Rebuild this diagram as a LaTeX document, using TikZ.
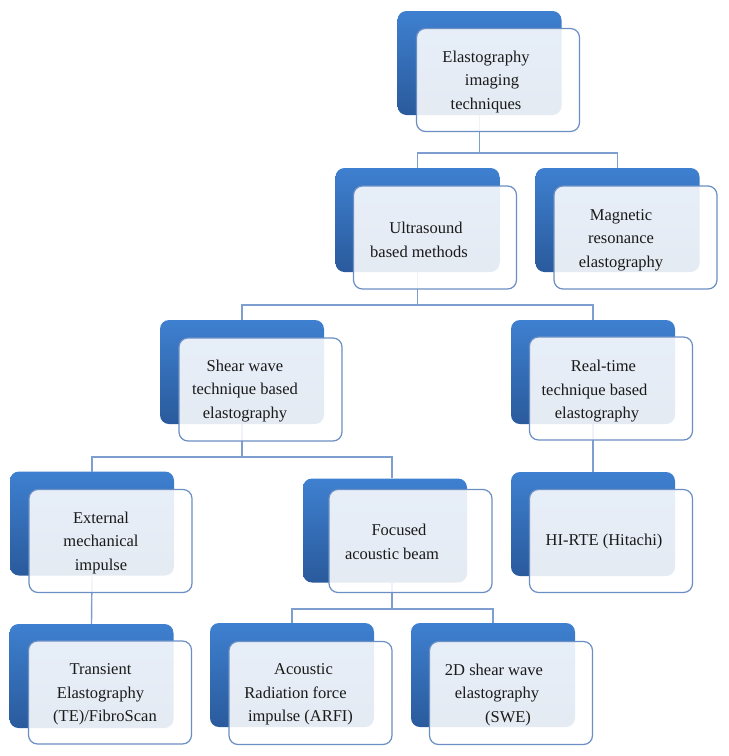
\documentclass[tikz,border=0pt]{standalone}
\usepackage{fontspec}
\setmainfont{Liberation Serif}
\definecolor{bluetop}{HTML}{3E80D0}
\definecolor{bluebot}{HTML}{2A5A9C}
\definecolor{frontline}{HTML}{6B8FC4}
\definecolor{linkc}{HTML}{7D9ECF}
\definecolor{txtc}{HTML}{1A1A1A}
\begin{document}
\begin{tikzpicture}[x=1pt,y=-1pt,
  backbox/.style={rectangle, rounded corners=9pt, minimum width=164pt, minimum height=104pt,
    inner sep=0pt, outer sep=0pt, top color=bluetop, bottom color=bluebot, draw=none},
  frontbox/.style={rectangle, rounded corners=9pt, minimum width=163pt, minimum height=103pt,
    inner sep=0pt, outer sep=0pt, draw=frontline, line width=1.2pt, fill=white, fill opacity=0.88},
  txt/.style={align=center, font=\fontsize{16.5}{23.5}\selectfont, inner sep=0pt, text=txtc},
  link/.style={draw=linkc, line width=1.4pt}]
\useasboundingbox (0,0) rectangle (729,756);

% back boxes
\node[backbox] (Ab) at (479.5,63) {};
\node[backbox] (Bb) at (417.5,220) {};
\node[backbox] (Cb) at (617.5,220) {};
\node[backbox] (Db) at (242,372) {};
\node[backbox] (Eb) at (593,372) {};
\node[backbox] (Fb) at (92,523.5) {};
\node[backbox] (Gb) at (385,530.5) {};
\node[backbox] (Hb) at (593,524) {};
\node[backbox] (Ib) at (91.5,676) {};
\node[backbox] (Jb) at (292,675) {};
\node[backbox] (Kb) at (493,675) {};

% connectors
\coordinate (j1) at (0,153);
\coordinate (j2) at (0,305);
\coordinate (j3) at (0,457);
\coordinate (j4) at (0,609);
\coordinate (gin) at (392,478);
\coordinate (gout) at (392,583);
\draw[link] (Ab.south) -- (Ab.south |- j1) -| (Bb.north);
\draw[link] (Ab.south |- j1) -| (Cb.north);
\draw[link] (Bb.south) -- (Bb.south |- j2) -| (Db.north);
\draw[link] (Bb.south |- j2) -| (Eb.north);
\draw[link] (Db.south) -- (Db.south |- j3) -| (Fb.north);
\draw[link] (Db.south |- j3) -| (gin);
\draw[link] (Eb.south) -- (Hb.north);
\draw[link] (Fb.south) -- (Ib.north);
\draw[link] (gout) -- (gout |- j4) -| (Jb.north);
\draw[link] (gout |- j4) -| (Kb.north);

% front boxes
\node[frontbox] (Af) at (498,80) {};
\node[frontbox] (Bf) at (435,237.5) {};
\node[frontbox] (Cf) at (635.5,237.5) {};
\node[frontbox] (Df) at (260.5,389.5) {};
\node[frontbox] (Ef) at (611,388.5) {};
\node[frontbox] (Ff) at (110.5,541) {};
\node[frontbox] (Gf) at (410.5,541) {};
\node[frontbox] (Hf) at (611,541) {};
\node[frontbox] (If) at (110,692.5) {};
\node[frontbox] (Jf) at (310.5,693) {};
\node[frontbox] (Kf) at (511,693) {};

% texts
\node[txt] (At) at (486,82) {Elastography\\\kern12pt imaging\\techniques};
\node[txt] (Bt) at (419,240) {\kern14pt Ultrasound\\based methods};
\node[txt] (Ct) at (621,240) {Magnetic\\resonance\\elastography};
\node[txt] (Dt) at (245,391) {Shear wave\\technique based\\elastography};
\node[txt] (Et) at (594.5,391.5) {\kern18pt Real-time\\technique based\\\kern5pt elastography};
\node[txt] (Ft) at (101,543) {External\\mechanical\\impulse};
\node[txt] (Gt) at (392,542) {\kern14pt Focused\\acoustic beam};
\node[txt] (Ht) at (604,542) {HI-RTE (Hitachi)};
\node[txt] (It) at (105,694.5) {Transient\kern9pt\\Elastography\kern9pt\\(TE)/FibroScan};
\node[txt] (Jt) at (300.5,694.5) {\kern6pt Acoustic\\Radiation force\kern10pt\\impulse (ARFI)};
\node[txt] (Kt) at (494,695) {2D shear wave\\\kern6pt elastography\\\kern28pt (SWE)};
\end{tikzpicture}
\end{document}
